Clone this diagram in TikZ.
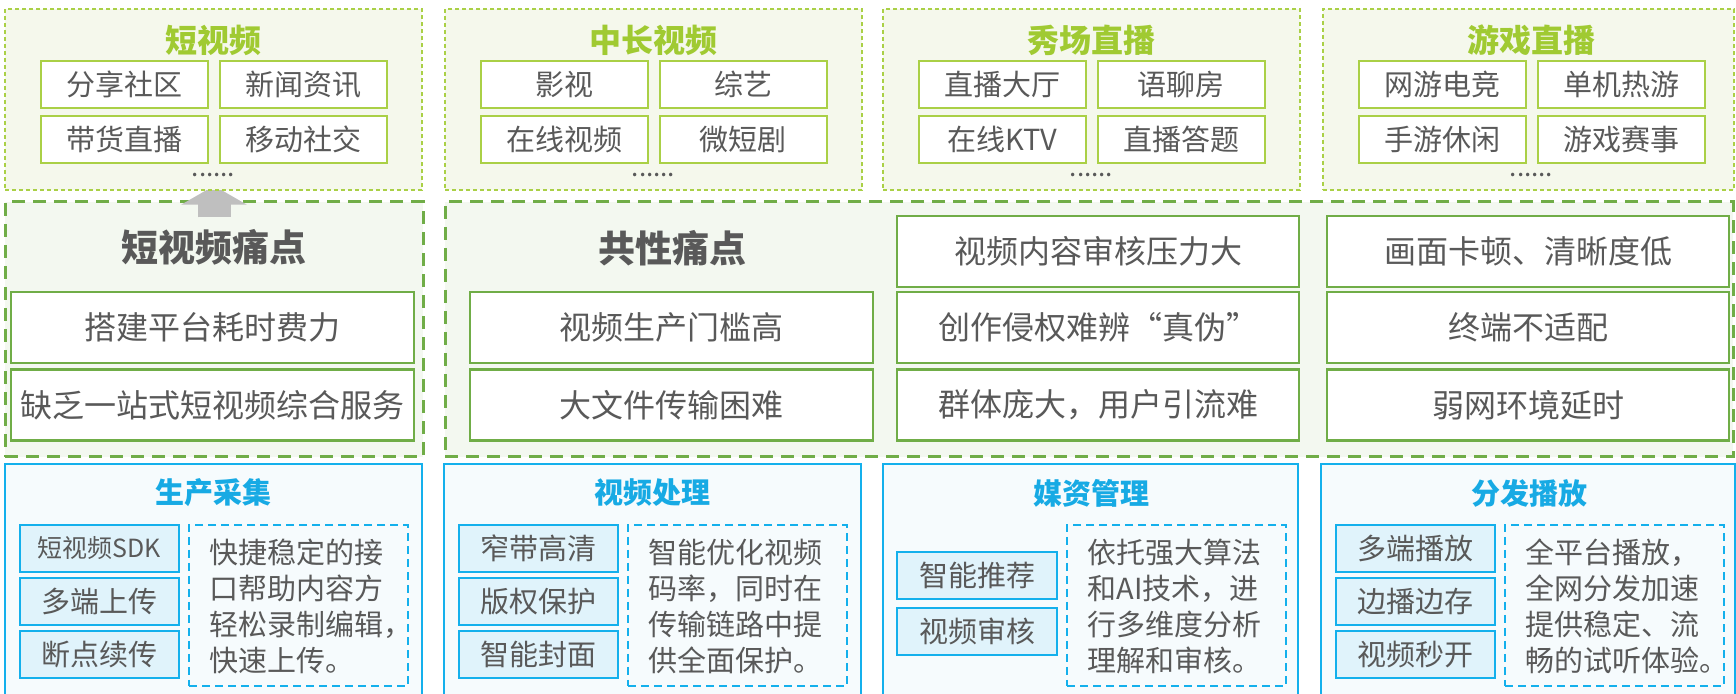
\documentclass[tikz,border=0pt]{standalone}
\usepackage{fontspec}
\setmainfont{Noto Sans CJK SC}
\usetikzlibrary{arrows.meta}

\definecolor{limeC}{RGB}{170,208,70}
\definecolor{limeT}{RGB}{160,202,50}
\definecolor{limeBg}{RGB}{245,248,236}
\definecolor{painG}{RGB}{112,173,71}
\definecolor{painBg}{RGB}{243,248,240}
\definecolor{blueC}{RGB}{20,176,236}
\definecolor{blueT}{RGB}{23,170,228}
\definecolor{blueBg}{RGB}{246,251,253}
\definecolor{blueBox}{RGB}{224,243,251}
\definecolor{txtGray}{RGB}{89,89,89}
\definecolor{arrowGray}{RGB}{191,191,191}

\pgfdeclarelayer{back}
\pgfsetlayers{back,main}

\tikzset{
  sz/.style 2 args={minimum width=#1*0.5pt, minimum height=#2*0.5pt},
  topPanel/.style={draw=limeC, fill=limeBg, line width=0.75pt, dash pattern=on 2pt off 1.5pt, inner sep=0pt},
  topTitle/.style={text=limeT, font=\fontsize{16}{19}\selectfont\bfseries},
  topBox/.style={draw=limeC, fill=white, line width=1pt, inner sep=0pt, text=txtGray, font=\fontsize{14.5}{17}\selectfont},
  dots/.style={text=txtGray, font=\fontsize{13}{15}\selectfont},
  painPanel/.style={draw=painG, fill=painBg, line width=1.5pt, dash pattern=on 6.5pt off 4pt, inner sep=0pt},
  painTitle/.style={text=txtGray, font=\fontsize{18.5}{22}\selectfont\bfseries},
  painBox/.style={draw=painG, fill=white, line width=1.2pt, inner sep=0pt, text=txtGray, font=\fontsize{16}{19}\selectfont},
  basePanel/.style={draw=blueC, fill=blueBg, line width=1pt, inner sep=0pt},
  baseTitle/.style={text=blueT, font=\fontsize{14.5}{17}\selectfont\bfseries},
  baseBox/.style={draw=blueC, fill=blueBox, line width=1pt, inner sep=0pt, text=txtGray, font=\fontsize{14.5}{17}\selectfont},
  descBox/.style={draw=blueC, line width=1pt, dash pattern=on 4pt off 2.5pt, inner sep=0pt},
  descText/.style={anchor=west, align=left, inner sep=0pt, text=txtGray, font=\fontsize{14.5}{18}\selectfont},
  upArrow/.style={draw=arrowGray, line width=16.5pt, -{Triangle[length=9.5pt,width=32.5pt]}}
}

\begin{document}
\begin{tikzpicture}[x=0.5pt,y=-0.5pt]

	\useasboundingbox (0,0) rectangle (1736,694);
	\clip (0,0) rectangle (1736,694);

	% scenarios
	\foreach \x/\w/\nm/\ttl/\a/\b/\c/\d in {
	  5/417/A/短视频/分享社区/新闻资讯/带货直播/移动社交,
	  445/417/B/中长视频/影视/综艺/在线视频/微短剧,
	  883/417/C/秀场直播/直播大厅/语聊房/在线KTV/直播答题,
	  1323/411/D/游戏直播/网游电竞/单机热游/手游休闲/游戏赛事}
	{
	  \node (top\nm) [topPanel, sz={\w}{181}] at (\x+\w/2,99.5) {};
	  \node (top\nm-t) [topTitle] at (\x+208.5,40) {\ttl};
	  \node (top\nm-1) [topBox, sz={167}{47}] at (\x+119.5,84.5) {\a};
	  \node (top\nm-2) [topBox, sz={167}{47}] at (\x+298,84.5) {\b};
	  \node (top\nm-3) [topBox, sz={167}{47}] at (\x+119.5,139.5) {\c};
	  \node (top\nm-4) [topBox, sz={167}{47}] at (\x+298,139.5) {\d};
	  \node (top\nm-dots) [dots] at (\x+208.5,175) {......};
	}

	% pain points
	\begin{pgfonlayer}{back}
	  \node (painS) [painPanel, sz={418}{255}] at (214,329.5) {};
	  \node (painC) [painPanel, sz={1288}{255}] at (1089,329.5) {};
	  \draw [upArrow] ([yshift=-8.5pt]painS.north) -- ([yshift=2.5pt]painS.north |- topA.south);
	\end{pgfonlayer}

	\node (painS-t) [painTitle] at (214,247) {短视频痛点};
	\node (painS-1) [painBox, sz={403}{71}] at (212.5,327.5) {搭建平台耗时费力};
	\node (painS-2) [painBox, sz={403}{71}] at (212.5,405) {缺乏一站式短视频综合服务};

	\node (painC-t) [painTitle] at (672,248) {共性痛点};
	\node (painC-1) [painBox, sz={403}{71}] at (671.5,327.5) {视频生产门槛高};
	\node (painC-2) [painBox, sz={403}{71}] at (671.5,405) {大文件传输困难};
	\foreach \x/\nm/\a/\b/\c in {
	  897/M/视频内容审核压力大/创作侵权难辨“真伪”/群体庞大，用户引流难,
	  1327/R/画面卡顿、清晰度低/终端不适配/弱网环境延时}
	{
	  \node (pain\nm-1) [painBox, sz={402}{71}] at (\x+201,251.5) {\a};
	  \node (pain\nm-2) [painBox, sz={402}{71}] at (\x+201,327.5) {\b};
	  \node (pain\nm-3) [painBox, sz={402}{71}] at (\x+201,405) {\c};
	}

	% capabilities
	\foreach \x/\w/\nm/\ttl/\txt in {
	  5/417/A/生产采集/{快捷稳定的接\\口帮助内容方\\轻松录制编辑，\\快速上传。},
	  444/417/B/视频处理/{智能优化视频\\码率，同时在\\传输链路中提\\供全面保护。},
	  883/415/C/媒资管理/{依托强大算法\\和AI技术，进\\行多维度分析\\理解和审核。},
	  1321/414/D/分发播放/{全平台播放，\\全网分发加速\\提供稳定、流\\畅的试听体验。}}
	{
	  \node (base\nm) [basePanel, sz={\w}{246}] at (\x+\w/2,587) {};
	  \node (base\nm-t) [baseTitle] at (\x+208,493) {\ttl};
	  \node (base\nm-d) [descBox, sz={219}{161}] at (\x+293.5,605.5) {};
	  \node (base\nm-txt) [descText] at (\x+204,606) {\txt};
	}
	\foreach \x/\nm/\a/\b/\c in {
	  5/A/{\fontsize{12.5}{15}\selectfont 短视频SDK}/多端上传/断点续传,
	  444/B/窄带高清/版权保护/智能封面,
	  1321/D/多端播放/边播边存/视频秒开}
	{
	  \node (base\nm-1) [baseBox, sz={159}{47}] at (\x+94.5,548.5) {\a};
	  \node (base\nm-2) [baseBox, sz={159}{47}] at (\x+94.5,601.5) {\b};
	  \node (base\nm-3) [baseBox, sz={159}{47}] at (\x+94.5,654.5) {\c};
	}
	\node (baseC-1) [baseBox, sz={160}{47}] at (977,575.5) {智能推荐};
	\node (baseC-2) [baseBox, sz={160}{47}] at (977,631.5) {视频审核};

\end{tikzpicture}
\end{document}
